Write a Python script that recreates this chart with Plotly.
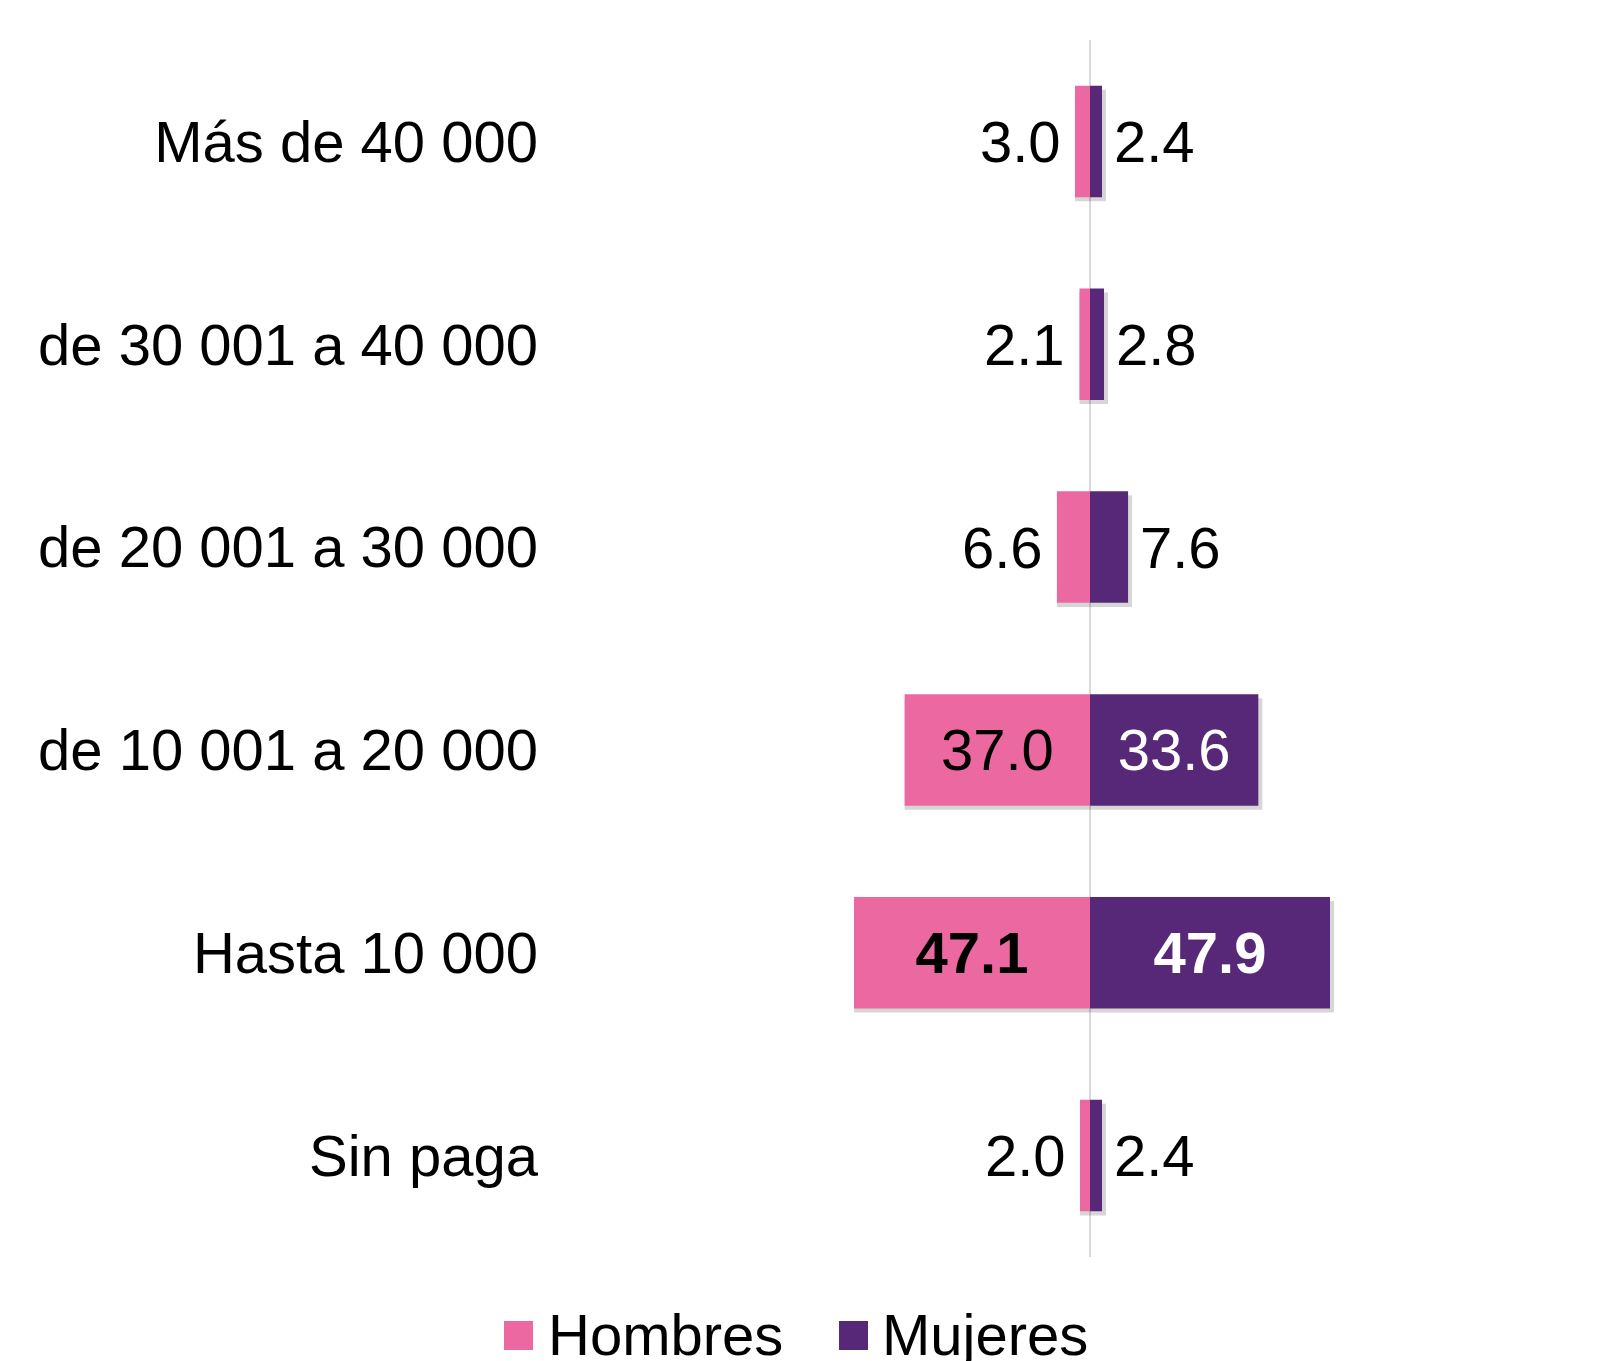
import plotly.graph_objects as go

categories = ["Más de 40 000", "de 30 001 a 40 000", "de 20 001 a 30 000",
              "de 10 001 a 20 000", "Hasta 10 000", "Sin paga"]
hombres = [3.0, 2.1, 6.6, 37.0, 47.1, 2.0]
mujeres = [2.4, 2.8, 7.6, 33.6, 47.9, 2.4]
bold_row = "Hasta 10 000"

PINK = "#EC68A0"
PURPLE = "#572778"
FONT = "Liberation Sans, Arial, sans-serif"
FS = 58
INSIDE_MIN = 20

# the html page body has an 8px margin: work in reference pixels minus OFF
OFF = 8
W, H = 1609 - OFF, 1361 - OFF
ML, MR, MT, MB = 545 - OFF, 9, 40 - OFF, 104
ZERO_PX = 1090 - OFF
PX_PER_UNIT = 5.01

x_left = -(ZERO_PX - ML) / PX_PER_UNIT
x_right = (W - MR - ZERO_PX) / PX_PER_UNIT


def fmt(v, cat):
    s = f"{v:.1f}"
    return f"<b>{s}</b>" if cat == bold_row else s


h_text = [fmt(v, c) if v >= INSIDE_MIN else "" for v, c in zip(hombres, categories)]
m_text = [fmt(v, c) if v >= INSIDE_MIN else "" for v, c in zip(mujeres, categories)]

fig = go.Figure()

# soft shadows
fig.add_trace(go.Bar(
    y=categories, x=[-v for v in hombres], orientation="h",
    marker=dict(color="rgba(0,0,0,0.16)", line=dict(width=0)),
    width=0.55, offset=-0.255, hoverinfo="skip", showlegend=False))
fig.add_trace(go.Bar(
    y=categories, x=[v + 0.8 for v in mujeres], orientation="h",
    marker=dict(color="rgba(0,0,0,0.16)", line=dict(width=0)),
    width=0.55, offset=-0.255, hoverinfo="skip", showlegend=False))

fig.add_trace(go.Bar(
    name="Hombres", y=categories, x=[-v for v in hombres], orientation="h",
    marker=dict(color=PINK, line=dict(width=0)), width=0.55, offset=-0.275,
    text=h_text, textposition="inside", insidetextanchor="middle",
    insidetextfont=dict(family=FONT, size=FS, color="black"),
    constraintext="none", showlegend=False))
fig.add_trace(go.Bar(
    name="Mujeres", y=categories, x=mujeres, orientation="h",
    marker=dict(color=PURPLE, line=dict(width=0)), width=0.55, offset=-0.275,
    text=m_text, textposition="inside", insidetextanchor="middle",
    insidetextfont=dict(family=FONT, size=FS, color="white"),
    constraintext="none", showlegend=False))

annotations = []
for c, v in zip(categories, hombres):
    if v < INSIDE_MIN:
        annotations.append(dict(x=-v, y=c, xref="x", yref="y", text=fmt(v, c),
                                showarrow=False, xanchor="right", yanchor="middle",
                                xshift=-12, font=dict(family=FONT, size=FS, color="black")))
for c, v in zip(categories, mujeres):
    if v < INSIDE_MIN:
        annotations.append(dict(x=v, y=c, xref="x", yref="y", text=fmt(v, c),
                                showarrow=False, xanchor="left", yanchor="middle",
                                xshift=10, font=dict(family=FONT, size=FS, color="black")))

# manual legend (reference pixel positions converted to paper coords)
PW = W - ML - MR
PH = H - MT - MB


def px(xp):
    return (xp - OFF - ML) / PW


def py(yp):
    return (H - MB - (yp - OFF)) / PH


shapes = []
legend_items = [("Hombres", PINK, 504, 546), ("Mujeres", PURPLE, 839, 880)]
for name, col, sx, tx in legend_items:
    shapes.append(dict(type="rect", xref="paper", yref="paper",
                       x0=px(sx), x1=px(sx + 29), y0=py(1350), y1=py(1321),
                       fillcolor=col, line=dict(width=0)))
    annotations.append(dict(x=px(tx), y=py(1334), xref="paper", yref="paper",
                            text=name, showarrow=False, xanchor="left", yanchor="middle",
                            font=dict(family=FONT, size=FS, color="black")))

fig.update_layout(
    width=W, height=H,
    margin=dict(l=ML, r=MR, t=MT, b=MB, pad=0),
    paper_bgcolor="white", plot_bgcolor="white",
    barmode="overlay",
    showlegend=False,
    annotations=annotations,
    shapes=shapes,
    font=dict(family=FONT, size=FS, color="black"),
    xaxis=dict(range=[x_left, x_right], showgrid=False, showticklabels=False,
               zeroline=True, zerolinecolor="#d9d9d9", zerolinewidth=2,
               layer="above traces", fixedrange=True),
    yaxis=dict(autorange="reversed", showgrid=False, zeroline=False, ticks="",
               tickfont=dict(family=FONT, size=FS, color="black"),
               ticklabelstandoff=6, fixedrange=True),
)

fig.write_html("out.html")
